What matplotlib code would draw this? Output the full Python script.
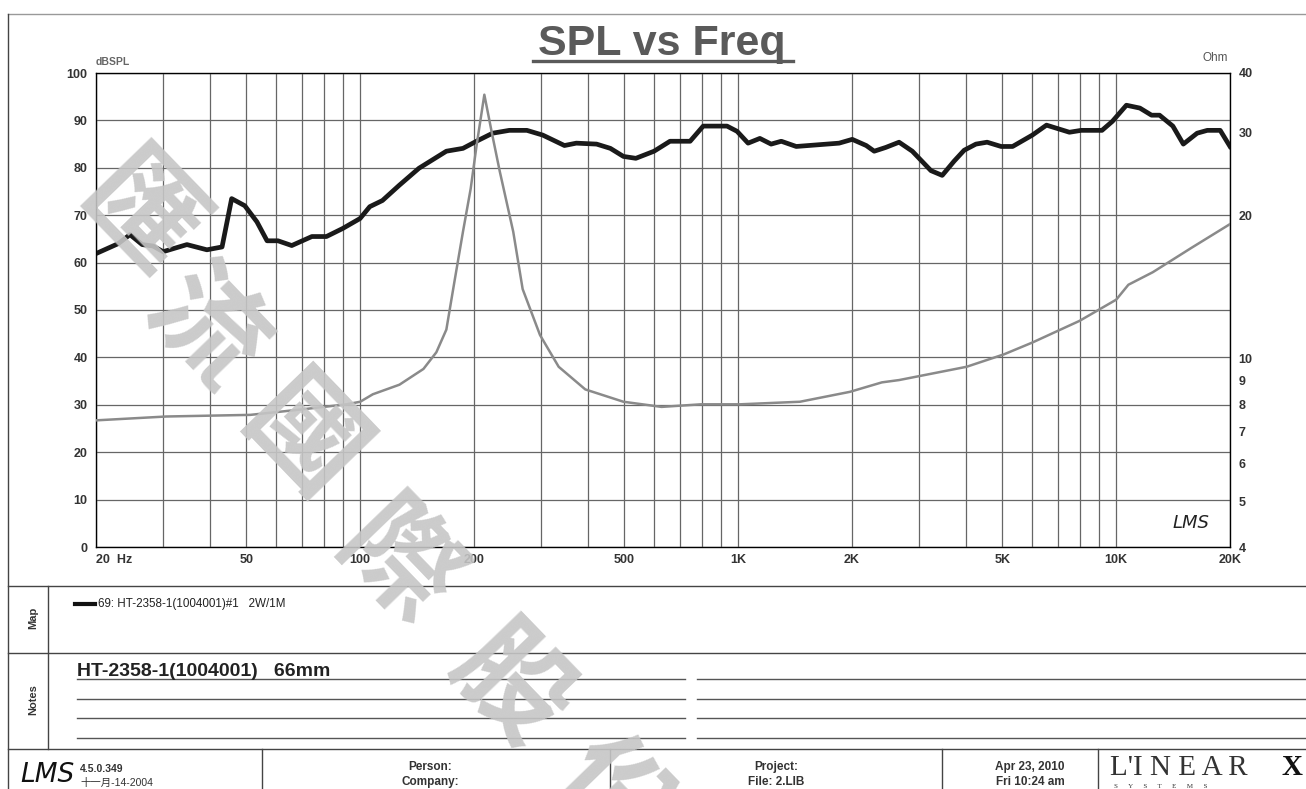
import matplotlib
matplotlib.use("Agg")
import matplotlib.pyplot as plt
import numpy as np
from matplotlib.ticker import FixedLocator, NullFormatter, NullLocator

# SPL curve (dB)
spl_freq = [20, 22.9, 24.6, 26.5, 28.3, 30.1, 34.8, 39.3, 43.1, 45.7, 49.5, 53.3,
            56.7, 60.6, 65.9, 74.5, 81.4, 89.9, 99.9, 106, 114.5, 126.8, 143, 169,
            187, 203, 224, 248, 276, 304, 347, 373, 422, 459, 497, 536, 599, 660,
            746, 808, 934, 993, 1062, 1141, 1222, 1300, 1424, 1849, 2003, 2181,
            2290, 2457, 2664, 2888, 3235, 3465, 3725, 3960, 4255, 4555, 4960, 5320,
            6000, 6540, 7520, 8080, 9170, 9770, 10640, 11550, 12400, 13020, 14120,
            15050, 16370, 17420, 18840, 20000]
spl_db = [61.9, 64.0, 65.9, 63.8, 63.5, 62.3, 63.8, 62.7, 63.3, 73.5, 72.0, 68.6,
          64.6, 64.6, 63.6, 65.5, 65.5, 67.2, 69.3, 71.8, 73.1, 76.3, 79.9, 83.5,
          84.1, 85.6, 87.3, 87.9, 87.9, 86.9, 84.7, 85.2, 85.0, 84.1, 82.4, 82.0,
          83.5, 85.6, 85.6, 88.8, 88.8, 87.7, 85.2, 86.2, 85.0, 85.6, 84.5, 85.2,
          86.0, 84.7, 83.5, 84.3, 85.4, 83.5, 79.4, 78.4, 81.4, 83.7, 85.0, 85.4,
          84.5, 84.5, 86.9, 89.0, 87.5, 87.9, 87.9, 89.8, 93.2, 92.6, 91.1, 91.1,
          88.8, 85.0, 87.3, 87.9, 87.9, 84.5]

# impedance curve (Ohm)
imp_freq = [20, 30.7, 51.2, 69.6, 92, 100, 108, 127, 147, 159, 169, 178, 187, 196,
            203, 213, 223, 234, 254, 269, 299, 335, 394, 497, 627, 797, 1011, 1456,
            1975, 2400, 2664, 4020, 5050, 6000, 8000, 10000, 10770, 12500, 15800, 20000]
imp_ohm = [7.4, 7.54, 7.6, 7.8, 8.0, 8.1, 8.4, 8.8, 9.5, 10.3, 11.5, 14.7, 18.5, 22.8,
           28.0, 36.0, 29.9, 24.8, 18.5, 14.0, 11.2, 9.6, 8.6, 8.1, 7.9, 8.0, 8.0, 8.1,
           8.5, 8.9, 9.0, 9.6, 10.2, 10.8, 12.0, 13.3, 14.3, 15.2, 17.1, 19.2]

x_ticks = [20, 50, 100, 200, 500, 1000, 2000, 5000, 10000, 20000]
x_labels = ["20  Hz", "50", "100", "200", "500", "1K", "2K", "5K", "10K", "20K"]
db_ticks = list(range(0, 101, 10))
ohm_ticks = [4, 5, 6, 7, 8, 9, 10, 20, 30, 40]

ink = "#333333"
grid_c = "#666666"

fig = plt.figure(figsize=(13.06, 7.89), dpi=100)
fig.patch.set_facecolor("white")

W, H = 1306, 789
ax = fig.add_axes([96 / W, 1 - 547 / H, (1230 - 96) / W, (547 - 73) / H])
ax.set_xscale("log")
ax.set_xlim(20, 20000)
ax.set_ylim(0, 100)
ax.xaxis.set_major_locator(FixedLocator(x_ticks))
ax.xaxis.set_minor_locator(FixedLocator(
    [m * 10 ** d for d in range(1, 5) for m in range(2, 10) if 20 <= m * 10 ** d <= 20000]))
ax.xaxis.set_minor_formatter(NullFormatter())
ax.set_xticklabels(x_labels)
ax.get_xticklabels()[0].set_horizontalalignment("left")
ax.set_yticks(db_ticks)
ax.tick_params(axis="both", which="both", length=0, labelsize=9, labelcolor=ink)
ax.tick_params(axis="x", pad=5)
ax.tick_params(axis="y", pad=6)
for lab in ax.get_xticklabels() + ax.get_yticklabels():
    lab.set_fontweight("bold")
    lab.set_family("Liberation Sans")
ax.grid(True, which="both", axis="x", color=grid_c, lw=0.9)
ax.grid(True, which="major", axis="y", color=grid_c, lw=0.9)
for s in ax.spines.values():
    s.set_color("#444444")
    s.set_linewidth(1.0)

ax.plot(spl_freq, spl_db, color="#1a1a1a", lw=3.4, solid_joinstyle="round", zorder=4)

ax2 = ax.twinx()
ax2.set_yscale("log")
ax2.set_ylim(4, 40)
ax2.yaxis.set_major_locator(FixedLocator(ohm_ticks))
ax2.yaxis.set_minor_locator(NullLocator())
ax2.set_yticklabels([str(t) for t in ohm_ticks])
ax2.tick_params(axis="y", length=0, labelsize=9, labelcolor=ink, pad=6)
for lab in ax2.get_yticklabels():
    lab.set_fontweight("bold")
    lab.set_family("Liberation Sans")
ax2.plot(imp_freq, imp_ohm, color="#8a8a8a", lw=1.8, zorder=3)

ax.text(0.0, 1.012, "dBSPL", transform=ax.transAxes, fontsize=7.5, fontweight="bold",
        color="#666666", family="Liberation Sans", ha="left", va="bottom")
ax.text(0.998, 1.02, "Ohm", transform=ax.transAxes, fontsize=8.5, color="#555555",
        family="Liberation Sans", ha="right", va="bottom")
ax.text(0.982, 0.05, "LMS", transform=ax.transAxes, fontsize=13, fontstyle="italic",
        color="#222222", family="DejaVu Sans", ha="right", va="center")

# page layout overlay (pixel coordinates)
page = fig.add_axes([0, 0, 1, 1], zorder=5)
page.set_xlim(0, W)
page.set_ylim(H, 0)
page.axis("off")
page.patch.set_alpha(0)

line_kw = dict(color="#444444", lw=1.0)
page.plot([8, W], [14, 14], color="#999999", lw=1.0)
page.plot([8, 8], [14, H], **line_kw)
page.plot([8, W], [586, 586], **line_kw)
page.plot([8, W], [653, 653], **line_kw)
page.plot([8, W], [749, 749], **line_kw)
page.plot([48, 48], [586, 749], **line_kw)
for yy in [679, 699, 718, 738]:
    page.plot([77, 685], [yy, yy], color="#555555", lw=1.0)
    page.plot([697, W], [yy, yy], color="#555555", lw=1.0)
for xx in [262, 610, 942, 1098]:
    page.plot([xx, xx], [749, H], **line_kw)

# title
page.text(662, 55, "SPL vs Freq", fontsize=31, fontweight="bold", color="#5a5a5a",
          family="Liberation Sans", ha="center", va="baseline")
page.plot([533, 793], [61, 61], color="#5a5a5a", lw=2.4)

# map / notes
page.text(33, 618, "Map", rotation=90, fontsize=8, fontweight="bold", color=ink,
          family="Liberation Sans", ha="center", va="center")
page.text(33, 700, "Notes", rotation=90, fontsize=8, fontweight="bold", color=ink,
          family="Liberation Sans", ha="center", va="center")
page.plot([75, 95], [604, 604], color="#111111", lw=3)
page.text(98, 604, "69: HT-2358-1(1004001)#1   2W/1M", fontsize=8.4, color="#222222",
          family="Liberation Sans", ha="left", va="center")
page.text(77, 676, "HT-2358-1(1004001)   66mm", fontsize=14, fontweight="bold",
          color="#222222", family="Liberation Sans", ha="left", va="baseline")

# footer
cjk = ["Liberation Sans", "Noto Sans CJK TC"]
page.text(20, 775, "LMS", fontsize=19, fontstyle="italic", color="#111111",
          family="DejaVu Sans", ha="left", va="center")
page.text(80, 769, "4.5.0.349", fontsize=7.5, fontweight="bold", color=ink,
          family=cjk, ha="left", va="center")
page.text(80, 783, "十一月-14-2004", fontsize=7.5, color=ink, family=cjk,
          ha="left", va="center")
foot = [(430, "Person:", "Company:"), (776, "Project:", "File: 2.LIB"),
        (1030, "Apr 23, 2010", "Fri 10:24 am")]
for xx, t1, t2 in foot:
    page.text(xx, 767, t1, fontsize=8.5, fontweight="bold", color=ink,
              family="Liberation Sans", ha="center", va="center")
    page.text(xx, 782, t2, fontsize=8.5, fontweight="bold", color=ink,
              family="Liberation Sans", ha="center", va="center")
page.text(1110, 775, "L'I N E A R", fontsize=21, color="#333333",
          family="Liberation Serif", ha="left", va="baseline")
page.text(1281, 775, "X", fontsize=21, fontweight="bold", color="#111111",
          family="Liberation Serif", ha="left", va="baseline")
page.text(1114, 789, "S      Y      S      T      E      M      S", fontsize=5,
          color="#333333", family="Liberation Serif", ha="left", va="bottom")

# watermark
wm_chars = ["匯", "流", "國", "際", "股", "份"]
wm_x = [138, 205, 302, 395, 510, 612]
wm_y = [218, 330, 442, 568, 688, 800]
for ch, xx, yy in zip(wm_chars, wm_x, wm_y):
    page.text(xx, yy, ch, fontsize=82, fontweight="bold", color="#c6c6c6", alpha=0.9,
              rotation=-46, family="Noto Sans CJK TC", ha="center", va="center",
              clip_on=True)

fig.savefig("out.png", dpi=100, facecolor="white")
